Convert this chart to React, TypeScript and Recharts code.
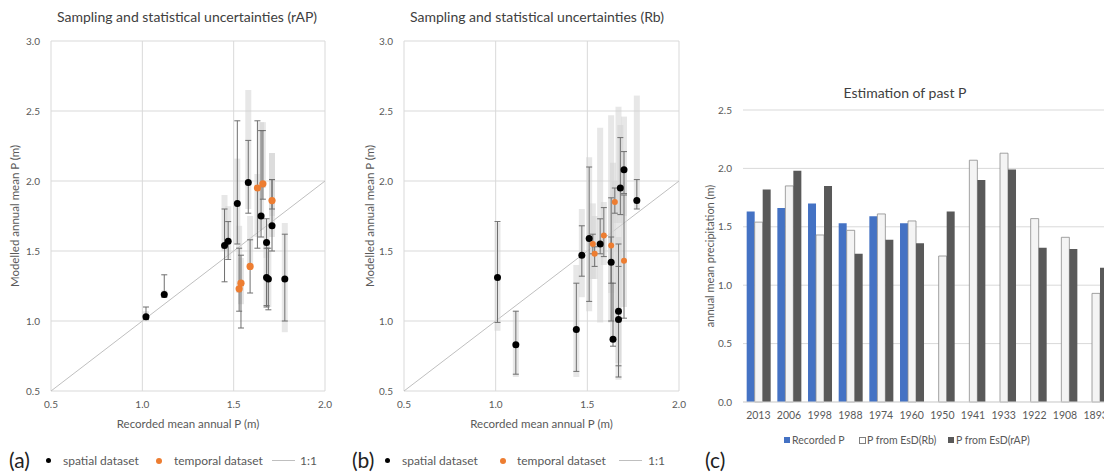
import React from 'react'
import {
  ScatterChart, Scatter, XAxis, YAxis, CartesianGrid, ErrorBar, ReferenceLine,
  BarChart, Bar,
} from 'recharts'

// x = recorded, y = modelled, lo/hi = sampling range, blo/bhi = statistical range
const rapSpatial = [
  { x: 1.02, y: 1.03, lo: 1.01, hi: 1.10, blo: 1.0, bhi: 1.07 },
  { x: 1.12, y: 1.19, lo: 1.17, hi: 1.33, blo: 1.17, bhi: 1.22 },
  { x: 1.45, y: 1.54, lo: 1.28, hi: 1.80, blo: 1.50, bhi: 1.90 },
  { x: 1.47, y: 1.57, lo: 1.44, hi: 1.71, blo: 1.45, bhi: 1.82 },
  { x: 1.52, y: 1.84, lo: 1.55, hi: 2.43, blo: 1.55, bhi: 2.16 },
  { x: 1.58, y: 1.99, lo: 1.77, hi: 2.29, blo: 1.80, bhi: 2.65 },
  { x: 1.65, y: 1.75, lo: 1.60, hi: 2.36, blo: 1.65, bhi: 2.42 },
  { x: 1.68, y: 1.56, lo: 1.11, hi: 1.73, blo: 1.45, bhi: 1.72 },
  { x: 1.68, y: 1.31, lo: 1.10, hi: 1.52, blo: 1.10, bhi: 1.55 },
  { x: 1.69, y: 1.30, lo: 1.08, hi: 1.52, blo: 1.10, bhi: 1.50 },
  { x: 1.71, y: 1.68, lo: 1.50, hi: 2.01, blo: 1.60, bhi: 2.20 },
  { x: 1.78, y: 1.30, lo: 1.00, hi: 1.62, blo: 0.92, bhi: 1.70 },
]
const rapTemporal = [
  { x: 1.53, y: 1.23, lo: 1.07, hi: 1.52, blo: 1.20, bhi: 1.68 },
  { x: 1.54, y: 1.27, lo: 0.95, hi: 1.47, blo: 1.12, bhi: 1.45 },
  { x: 1.59, y: 1.39, lo: 1.20, hi: 1.58, blo: 1.40, bhi: 1.75 },
  { x: 1.63, y: 1.95, lo: 1.52, hi: 2.43, blo: 1.60, bhi: 2.05 },
  { x: 1.66, y: 1.98, lo: 1.87, hi: 2.36, blo: 1.95, bhi: 2.42 },
  { x: 1.71, y: 1.86, lo: 1.80, hi: 2.01, blo: 1.75, bhi: 2.20 },
]
const rbSpatial = [
  { x: 1.01, y: 1.31, lo: 0.99, hi: 1.71, blo: 0.93, bhi: 1.70 },
  { x: 1.11, y: 0.83, lo: 0.62, hi: 1.07, blo: 0.60, bhi: 1.07 },
  { x: 1.44, y: 0.94, lo: 0.64, hi: 1.27, blo: 0.60, bhi: 1.40 },
  { x: 1.47, y: 1.47, lo: 1.32, hi: 1.68, blo: 1.17, bhi: 1.80 },
  { x: 1.51, y: 1.59, lo: 1.14, hi: 2.10, blo: 1.07, bhi: 2.17 },
  { x: 1.57, y: 1.55, lo: 1.48, hi: 1.73, blo: 0.99, bhi: 2.38 },
  { x: 1.63, y: 1.42, lo: 1.00, hi: 1.88, blo: 0.99, bhi: 2.47 },
  { x: 1.64, y: 0.87, lo: 0.82, hi: 1.27, blo: 0.85, bhi: 2.13 },
  { x: 1.67, y: 1.07, lo: 0.60, hi: 1.39, blo: 0.58, bhi: 2.53 },
  { x: 1.67, y: 1.01, lo: 0.68, hi: 1.55, blo: 0.70, bhi: 1.60 },
  { x: 1.68, y: 1.95, lo: 1.76, hi: 2.31, blo: 1.70, bhi: 2.40 },
  { x: 1.70, y: 2.08, lo: 1.91, hi: 2.21, blo: 1.75, bhi: 2.46 },
  { x: 1.77, y: 1.86, lo: 1.80, hi: 2.01, blo: 1.80, bhi: 2.61 },
]
const rbTemporal = [
  { x: 1.53, y: 1.55, lo: 1.48, hi: 1.62, blo: 1.30, bhi: 1.84 },
  { x: 1.54, y: 1.48, lo: 1.39, hi: 1.53, blo: 1.30, bhi: 1.75 },
  { x: 1.59, y: 1.61, lo: 1.46, hi: 1.81, blo: 1.40, bhi: 1.85 },
  { x: 1.63, y: 1.54, lo: 1.27, hi: 1.60, blo: 1.20, bhi: 1.88 },
  { x: 1.65, y: 1.85, lo: 1.77, hi: 1.95, blo: 1.70, bhi: 2.00 },
  { x: 1.70, y: 1.43, lo: 1.02, hi: 1.90, blo: 1.10, bhi: 2.10 },
]

const scatterTicksX = [0.5, 1.0, 1.5, 2.0]
const scatterTicksY = [0.5, 1.0, 1.5, 2.0, 2.5, 3.0]

const years = ['2013', '2006', '1998', '1988', '1974', '1960', '1950', '1941', '1933', '1922', '1908', '1893']
const recordedP = [1.63, 1.66, 1.70, 1.53, 1.59, 1.53, null, null, null, null, null, null]
const esdRb = [1.54, 1.85, 1.43, 1.47, 1.61, 1.55, 1.25, 2.07, 2.13, 1.57, 1.41, 0.93]
const esdRap = [1.82, 1.98, 1.85, 1.27, 1.39, 1.36, 1.63, 1.90, 1.99, 1.32, 1.31, 1.15]
const barTicksY = [0, 0.5, 1.0, 1.5, 2.0, 2.5]

const barData = years.map((year, i) => ({ year, rec: recordedP[i], rb: esdRb[i], rap: esdRap[i] }))

// ErrorBar wants deltas around y, so add them as plain fields
const withErr = (rows: any[]) =>
  rows.map(d => ({ ...d, samp: [d.y - d.lo, d.hi - d.y], stat: [d.y - d.blo, d.bhi - d.y] }))

const FONT = 'Lato, "Open Sans", sans-serif'
const TXT = '#595959'
const GRID = '#d9d9d9'
const ORANGE = '#ed7d31'

const noShape = () => <g />
const dot = (r: number, fill: string) => (p: any) => <circle cx={p.cx} cy={p.cy} r={r} fill={fill} />

function UncertaintyPlot({ spatial, temporal, left, marginLeft, yAxisWidth, marginRight, orangeR }: any) {
  const sp = withErr(spatial)
  const tp = withErr(temporal)
  return (
    <div style={{ position: 'absolute', left, top: 0 }}>
      <ScatterChart width={340} height={440} margin={{ top: 41, right: marginRight, left: marginLeft, bottom: 9 }}>
        <CartesianGrid stroke={GRID} strokeWidth={1} />
        <XAxis
          type="number" dataKey="x" domain={[0.5, 2]} ticks={scatterTicksX} allowDataOverflow
          tickFormatter={(v: number) => v.toFixed(1)}
          axisLine={false} tickLine={false} tickSize={0} tickMargin={10} height={40}
          tick={{ fontSize: 10, fill: TXT, fontFamily: FONT }}
          label={{ value: 'Recorded mean annual P (m)', position: 'insideBottom', offset: 3, fontSize: 11.5, fill: TXT, fontFamily: FONT }}
        />
        <YAxis
          type="number" dataKey="y" domain={[0.5, 3]} ticks={scatterTicksY} allowDataOverflow
          tickFormatter={(v: number) => v.toFixed(1)}
          axisLine={false} tickLine={false} tickSize={0} tickMargin={11} width={yAxisWidth}
          tick={{ fontSize: 10, fill: TXT, fontFamily: FONT }}
          label={{ value: 'Modelled annual mean P (m)', angle: -90, position: 'insideLeft', offset: 5, fontSize: 11.5, fill: TXT, fontFamily: FONT, style: { textAnchor: 'middle' } }}
        />
        <ReferenceLine segment={[{ x: 0.5, y: 0.5 }, { x: 2, y: 2 }]} stroke="#bfbfbf" strokeWidth={1} />
        <Scatter data={sp} shape={noShape} isAnimationActive={false}>
          <ErrorBar dataKey="stat" direction="y" width={0} stroke="#d4d4d4" strokeOpacity={0.55} strokeWidth={6} />
        </Scatter>
        <Scatter data={tp} shape={noShape} isAnimationActive={false}>
          <ErrorBar dataKey="stat" direction="y" width={0} stroke="#d4d4d4" strokeOpacity={0.55} strokeWidth={6} />
        </Scatter>
        <Scatter data={sp} shape={noShape} isAnimationActive={false}>
          <ErrorBar dataKey="samp" direction="y" width={3} stroke="#6f6f6f" strokeWidth={1} />
        </Scatter>
        <Scatter data={tp} shape={noShape} isAnimationActive={false}>
          <ErrorBar dataKey="samp" direction="y" width={3} stroke="#6f6f6f" strokeWidth={1} />
        </Scatter>
        <Scatter data={sp} shape={dot(3.5, '#000')} isAnimationActive={false} />
        <Scatter data={tp} shape={dot(orangeR, ORANGE)} isAnimationActive={false} />
      </ScatterChart>
    </div>
  )
}

const abs = (left: number, top: number, extra: any = {}) => ({ position: 'absolute' as const, left, top, whiteSpace: 'nowrap' as const, ...extra })

function ScatterLegend({ tag, x0, pos }: any) {
  const small = { fontSize: 12, color: TXT, fontFamily: FONT, lineHeight: '14px' }
  return (
    <>
      <div style={abs(x0, 448, { fontSize: 21, color: '#222', fontFamily: FONT, lineHeight: '24px' })}>{tag}</div>
      <div style={abs(pos[0] - 2.5, 458, { width: 5, height: 5, borderRadius: 3, background: '#000' })} />
      <div style={abs(pos[1], 454, small)}>spatial dataset</div>
      <div style={abs(pos[2] - 3, 457.5, { width: 6, height: 6, borderRadius: 3, background: ORANGE })} />
      <div style={abs(pos[3], 454, small)}>temporal dataset</div>
      <div style={abs(pos[4], 460, { width: 23, height: 1, background: '#bfbfbf' })} />
      <div style={abs(pos[5], 454, small)}>1:1</div>
    </>
  )
}

function Title({ text, cx, top }: any) {
  return (
    <div style={abs(cx - 150, top, { width: 300, textAlign: 'center', fontSize: 14, color: '#404040', fontFamily: FONT, lineHeight: '16px' })}>
      {text}
    </div>
  )
}

export default function App() {
  const small = { fontSize: 10.5, color: TXT, fontFamily: FONT, lineHeight: '12px' }
  return (
    <div style={{ position: 'absolute', left: 0, top: 0, width: 1104, height: 473, overflow: 'hidden', background: '#fff' }}>
      <Title text="Sampling and statistical uncertainties (rAP)" cx={187} top={9} />
      <Title text="Sampling and statistical uncertainties (Rb)" cx={537} top={9} />
      <Title text="Estimation of past P" cx={905} top={85} />

      <UncertaintyPlot spatial={rapSpatial} temporal={rapTemporal} left={0} marginLeft={10} yAxisWidth={41} marginRight={15} orangeR={3.6} />
      <UncertaintyPlot spatial={rbSpatial} temporal={rbTemporal} left={350} marginLeft={15} yAxisWidth={39} marginRight={11} orangeR={3} />

      <div style={{ position: 'absolute', left: 690, top: 0 }}>
        <BarChart width={431} height={440} data={barData} margin={{ top: 110, right: 10, left: 15, bottom: 8 }} barCategoryGap="12%" barGap={0}>
          <CartesianGrid stroke={GRID} vertical={false} />
          <XAxis
            dataKey="year" interval={0} axisLine={{ stroke: GRID }} tickLine={false} tickSize={0} tickMargin={10} height={30}
            tick={{ fontSize: 10.5, fill: TXT, fontFamily: FONT }}
          />
          <YAxis
            type="number" domain={[0, 2.5]} ticks={barTicksY} tickFormatter={(v: number) => v.toFixed(1)}
            axisLine={false} tickLine={false} tickSize={0} tickMargin={11} width={38}
            tick={{ fontSize: 10, fill: TXT, fontFamily: FONT }}
            label={{ value: 'annual mean precipitation (m)', angle: -90, position: 'insideLeft', offset: 5, fontSize: 11, fill: TXT, fontFamily: FONT, style: { textAnchor: 'middle' } }}
          />
          <Bar dataKey="rec" fill="#4472c4" isAnimationActive={false} />
          <Bar dataKey="rb" fill="#f4f4f4" stroke="#8c8c8c" strokeWidth={0.8} isAnimationActive={false} />
          <Bar dataKey="rap" fill="#595959" isAnimationActive={false} />
        </BarChart>
      </div>

      <ScatterLegend tag="(a)" x0={9} pos={[48, 63, 159, 174, 272, 300]} />
      <ScatterLegend tag="(b)" x0={352} pos={[387, 402, 503, 517, 619, 648]} />

      <div style={abs(784, 437, { width: 6, height: 6, background: '#4472c4' })} />
      <div style={abs(792, 434, small)}>Recorded P</div>
      <div style={abs(859, 437, { width: 5, height: 5, background: '#fff', border: '0.8px solid #7f7f7f' })} />
      <div style={abs(867, 434, small)}>P from EsD(Rb)</div>
      <div style={abs(948, 437, { width: 6, height: 6, background: '#595959' })} />
      <div style={abs(956, 434, small)}>P from EsD(rAP)</div>
      <div style={abs(705, 448, { fontSize: 21, color: '#222', fontFamily: FONT, lineHeight: '24px' })}>(c)</div>
    </div>
  )
}
